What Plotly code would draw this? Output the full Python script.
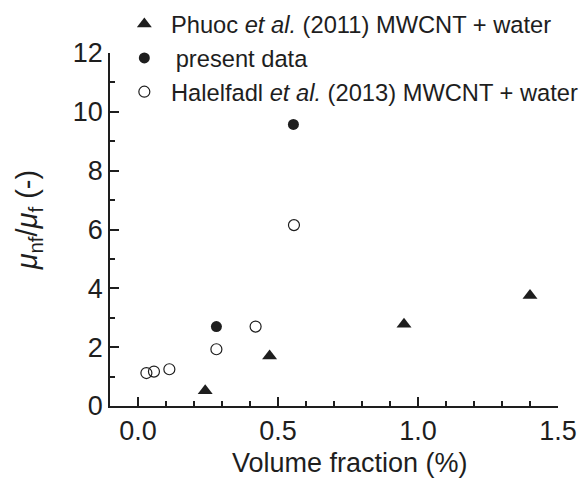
import plotly.graph_objects as go

# Relative viscosity of MWCNT/water nanofluids vs. volume fraction
phuoc_x = [0.24, 0.47, 0.95, 1.40]
phuoc_y = [0.52, 1.70, 2.78, 3.76]

present_x = [0.28, 0.555]
present_y = [2.70, 9.57]

halelfadl_x = [0.03, 0.057, 0.112, 0.28, 0.42, 0.557]
halelfadl_y = [1.12, 1.17, 1.25, 1.93, 2.70, 6.15]

x_ticks = [0.0, 0.5, 1.0, 1.5]
x_ticktext = ["0.0", "0.5", "1.0", "1.5"]
x_minor = [0.1, 0.2, 0.3, 0.4, 0.6, 0.7, 0.8, 0.9, 1.1, 1.2, 1.3, 1.4]
y_ticks = [0, 2, 4, 6, 8, 10, 12]
y_minor = [1, 3, 5, 7, 9, 11]

INK = "#1e1e1e"
FONT = "Liberation Sans, Arial, sans-serif"
NB = "\u00a0"

fig = go.Figure()
fig.add_trace(go.Scatter(
    x=phuoc_x, y=phuoc_y, mode="markers",
    name=NB + "Phuoc <i>et al.</i> (2011) MWCNT + water",
    marker=dict(symbol="triangle-up", size=13, color=INK, line=dict(width=0)),
))
fig.add_trace(go.Scatter(
    x=present_x, y=present_y, mode="markers",
    name=NB + "\u2009present data",
    marker=dict(symbol="circle", size=11, color=INK, line=dict(width=0)),
))
fig.add_trace(go.Scatter(
    x=halelfadl_x, y=halelfadl_y, mode="markers",
    name=NB + "Halelfadl <i>et al.</i> (2013) MWCNT + water",
    marker=dict(symbol="circle-open", size=11, color=INK, line=dict(width=1.2, color=INK)),
))

axis_common = dict(
    showline=True, linecolor=INK, linewidth=1.5, mirror=False,
    showgrid=False, zeroline=False,
    ticks="inside", ticklen=9, tickwidth=1.5, tickcolor=INK,
    tickfont=dict(family=FONT, size=27, color=INK),
)

fig.update_xaxes(
    range=[-0.1, 1.5], tickmode="array", tickvals=x_ticks, ticktext=x_ticktext,
    minor=dict(tickmode="array", tickvals=x_minor,
               ticks="inside", ticklen=5, tickwidth=1.5, tickcolor=INK),
    **axis_common,
)
fig.update_yaxes(
    range=[0, 12], tickmode="array", tickvals=y_ticks,
    minor=dict(tickmode="array", tickvals=y_minor,
               ticks="inside", ticklen=5, tickwidth=1.5, tickcolor=INK),
    **axis_common,
)

# Axis titles placed as annotations
fig.add_annotation(
    text="Volume fraction (%)", xref="paper", yref="paper",
    x=0.536, y=-0.1615, xanchor="center", yanchor="middle", showarrow=False,
    font=dict(family=FONT, size=27, color=INK),
)
fig.add_annotation(
    text="<i>μ</i><sub>nf</sub>/<i>μ</i><sub>f</sub> (-)", xref="paper", yref="paper",
    x=-0.18, y=0.527, xanchor="center", yanchor="middle", showarrow=False,
    textangle=-90, font=dict(family=FONT, size=29, color=INK),
)

fig.update_layout(
    width=583, height=480,
    margin=dict(l=110, r=25, t=53, b=74, autoexpand=False),
    plot_bgcolor="white", paper_bgcolor="white",
    showlegend=True,
    legend=dict(
        x=0.032, y=1.144, xanchor="left", yanchor="top",
        bgcolor="rgba(0,0,0,0)", borderwidth=0,
        font=dict(family=FONT, size=23.7, color=INK),
        itemsizing="trace", tracegroupgap=0,
    ),
)

fig.write_html("out.html")
